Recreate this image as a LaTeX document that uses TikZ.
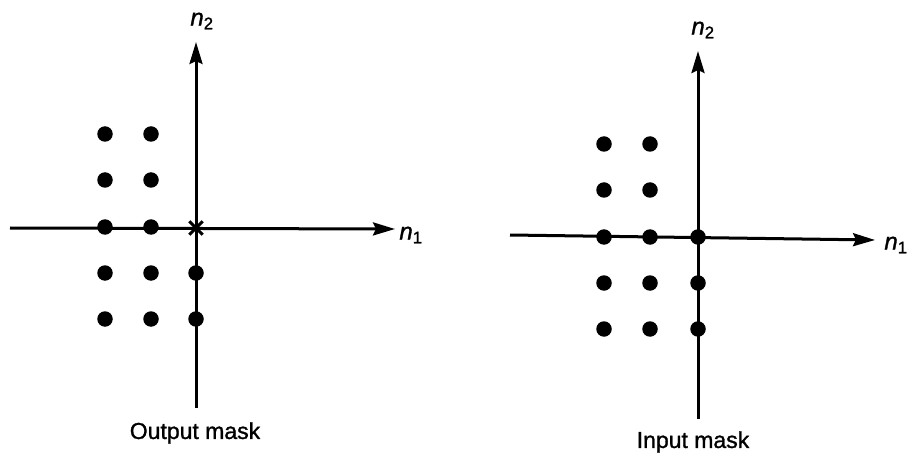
\documentclass[tikz,border=0pt]{standalone}
\usepackage{fontspec}
\setmainfont{Liberation Sans}[FakeBold=1.2,AutoFakeBold=1.2]
\usetikzlibrary{arrows.meta}
\begin{document}
\begin{tikzpicture}[x=1pt,y=-1pt,
  axis/.style={line width=3pt,-{Stealth[length=22pt,width=13pt,inset=3pt]}},
  pt/.style={circle,fill=black,inner sep=0pt,minimum size=15.5pt},
  axlabel/.style={font=\fontsize{24}{28}\selectfont\bfseries},
  caption/.style={font=\fontsize{23}{27}\selectfont\bfseries}]
\useasboundingbox (0,0) rectangle (909,454);
% ---------- left: output mask ----------
\coordinate (L1s) at (10,228);
\coordinate (L1e) at (395,229);
\coordinate (L2s) at (196,408);
\coordinate (L2e) at (196,42);
\draw[axis] (L1s) -- (L1e);
\draw[axis] (L2s) -- (L2e);
\node[axlabel] (Ln1) at (411,235) {\itshape n\textsubscript{\upshape 1}};
\node[axlabel] (Ln2) at (202,21) {\itshape n\textsubscript{\upshape 2}};
\foreach \r/\y in {1/134,2/180,3/227,4/273,5/319}{
  \node[pt] (La\r) at (105,\y) {};
  \node[pt] (Lb\r) at (151,\y) {};
}
\node[pt] (Lc4) at (196,273) {};
\node[pt] (Lc5) at (196,319) {};
\node[inner sep=0pt,minimum size=13pt] (Lx) at (196,228) {};
\draw[line width=3pt] (Lx.north west) -- (Lx.south east) (Lx.north east) -- (Lx.south west);
\node[caption] (Lcap) at (195,433) {Output mask};
% ---------- right: input mask ----------
\coordinate (R1s) at (510,235);
\coordinate (R1e) at (875,240);
\coordinate (R2s) at (698,419);
\coordinate (R2e) at (698,51);
\draw[axis] (R1s) -- (R1e);
\draw[axis] (R2s) -- (R2e);
\node[axlabel] (Rn1) at (896,245) {\itshape n\textsubscript{\upshape 1}};
\node[axlabel] (Rn2) at (703,30) {\itshape n\textsubscript{\upshape 2}};
\foreach \r/\y in {1/144,2/190,3/237,4/283,5/329}{
  \node[pt] (Ra\r) at (604,\y) {};
  \node[pt] (Rb\r) at (650,\y) {};
}
\node[pt] (Rc3) at (698,237) {};
\node[pt] (Rc4) at (698,283) {};
\node[pt] (Rc5) at (698,329) {};
\node[caption] (Rcap) at (693,442) {Input mask};
\end{tikzpicture}
\end{document}
